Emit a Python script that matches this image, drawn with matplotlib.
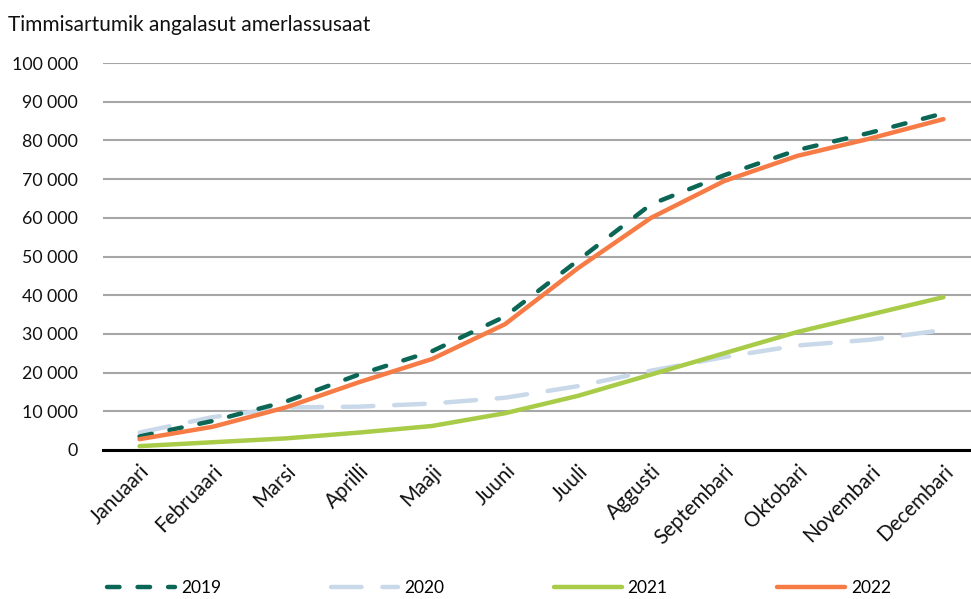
import matplotlib
matplotlib.use("Agg")
import matplotlib.pyplot as plt
from matplotlib.ticker import FuncFormatter

plt.rcParams['font.family'] = ['Lato', 'DejaVu Sans']
plt.rcParams['lines.scale_dashes'] = False

months = ["Januaari", "Februaari", "Marsi", "Aprilli", "Maaji", "Juuni", "Juuli",
          "Aggusti", "Septembari", "Oktobari", "Novembari", "Decembari"]
y2019 = [3500, 7500, 12500, 19500, 25500, 34500, 49000, 63500, 71000, 77500, 82000, 87000]
y2020 = [4500, 8500, 11000, 11200, 12000, 13500, 16500, 20500, 24000, 27000, 28500, 31000]
y2021 = [1000, 2000, 3000, 4500, 6200, 9500, 14000, 19500, 25000, 30500, 35000, 39500]
y2022 = [2800, 6000, 11000, 17500, 23500, 32500, 47000, 60000, 69500, 76000, 80500, 85500]
title = "Timmisartumik angalasut amerlassusaat"

fig = plt.figure(figsize=(9.71, 5.99), dpi=100)
ax = fig.add_axes([103/971, 1-450/599, 877/971, 387/599])
x = list(range(len(months)))

ax.plot(x, y2019, color="#0b6655", lw=3.2, dashes=(9, 13), dash_capstyle='round',
        solid_capstyle='round', label="2019", zorder=4)
ax.plot(x, y2020, color="#c9d9ea", lw=3.2, dashes=(22, 15), dash_capstyle='round',
        label="2020", zorder=3)
ax.plot(x, y2021, color="#a8cb48", lw=3.2, solid_capstyle='round', label="2021", zorder=3)
ax.plot(x, y2022, color="#f77b45", lw=3.2, solid_capstyle='round', label="2022", zorder=5)

ax.set_xlim(-0.5, 11.5)
ax.set_ylim(0, 100000)
ax.set_yticks(range(0, 100001, 10000))
ax.yaxis.set_major_formatter(FuncFormatter(lambda v, p: f"{int(v):,}".replace(",", " ")))
ax.set_xticks(x)
ax.set_xticklabels(months, rotation=45, ha='right', rotation_mode='anchor')
ax.tick_params(axis='both', length=0, colors='#111111')
ax.tick_params(axis='y', pad=18, labelsize=12.8)
ax.tick_params(axis='x', pad=8, labelsize=14.8)
ax.grid(axis='y', color='#a6a6a6', lw=1.5)
ax.set_axisbelow(True)
for s in ['top', 'right', 'left']:
    ax.spines[s].set_visible(False)
ax.spines['bottom'].set_color('black')
ax.spines['bottom'].set_linewidth(2.2)
ax.spines['bottom'].set_zorder(6)

fig.text(8/971, 1-25/599, title, fontsize=15, va='center', ha='left', color='#111111')

leg = fig.legend(loc='center', bbox_to_anchor=(0.514, 1-588/599), ncol=4, frameon=False,
                 fontsize=12.5, handlelength=3.9, handletextpad=0.35, columnspacing=6.3)

fig.savefig("out.png", dpi=100)
